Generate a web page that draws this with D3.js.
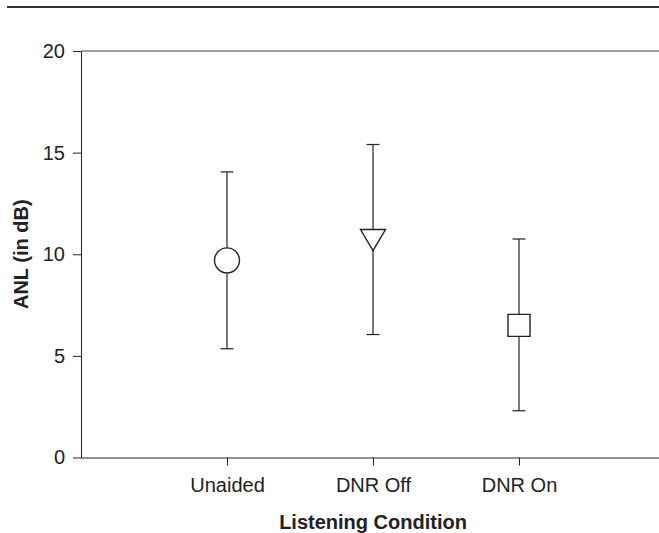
<!DOCTYPE html>
<html>
<head>
<meta charset="utf-8">
<script src="https://d3js.org/d3.v7.min.js"></script>
<style>
  body { margin: 0; background: #fff; }
  svg { display: block; }
</style>
</head>
<body>
<div id="chart"></div>
<script>
// data
var conditions = ["Unaided", "DNR Off", "DNR On"];
var means = [9.7, 10.7, 6.5];
var upper = [14.05, 15.4, 10.75];
var lower = [5.35, 6.05, 2.3];
var symbols = ["circle", "triangleDown", "square"];
var yTicks = [0, 5, 10, 15, 20];

var W = 659, H = 533;
var margin = { top: 51, left: 81 };
var plotH = 406.5;

var svg = d3.select("#chart")
    .append("svg")
    .attr("width", W)
    .attr("height", H)
    .attr("font-family", "Liberation Sans, Arial, sans-serif");

// thin rule at the top of the page
svg.append("line")
    .attr("x1", 7).attr("x2", W)
    .attr("y1", 7).attr("y2", 7)
    .attr("stroke", "#333")
    .attr("stroke-width", 2);

// x runs past the right edge of the window, like the original
var xScale = d3.scaleLinear()
    .domain([0, 4])
    .range([margin.left, margin.left + 4 * 146]);

var yScale = d3.scaleLinear()
    .domain([0, 20])
    .range([margin.top + plotH, margin.top]);

//Y-Axis
var yAxis = svg.append("g")
    .attr("transform", "translate(" + margin.left + ",0)")
    .call(d3.axisLeft(yScale).tickValues(yTicks).tickSize(8).tickSizeOuter(0).tickPadding(8));
yAxis.selectAll("text").attr("font-size", 20).attr("fill", "#222").attr("font-family", null);
yAxis.selectAll("line, path").attr("stroke", "#222");

//X-Axis
var xAxis = svg.append("g")
    .attr("transform", "translate(0," + yScale(0) + ")")
    .call(d3.axisBottom(xScale)
        .tickValues([1, 2, 3])
        .tickFormat(function(d) { return conditions[d - 1]; })
        .tickSize(8)
        .tickSizeOuter(0)
        .tickPadding(12));
xAxis.selectAll("text").attr("font-size", 20).attr("fill", "#222").attr("font-family", null);
xAxis.selectAll("line, path").attr("stroke", "#222");

// top frame line
svg.append("line")
    .attr("x1", margin.left).attr("x2", W)
    .attr("y1", yScale(20)).attr("y2", yScale(20))
    .attr("stroke", "#444")
    .attr("stroke-width", 1.2);

// axis titles
svg.append("text")
    .attr("x", xScale(2))
    .attr("y", 529)
    .attr("text-anchor", "middle")
    .attr("font-size", 20)
    .attr("font-weight", "bold")
    .attr("fill", "#222")
    .text("Listening Condition");

svg.append("text")
    .attr("transform", "translate(28," + yScale(10) + ") rotate(-90)")
    .attr("text-anchor", "middle")
    .attr("font-size", 20)
    .attr("font-weight", "bold")
    .attr("fill", "#222")
    .text("ANL (in dB)");

var data = conditions.map(function(c, i) {
    return { name: c, x: i + 1, mean: means[i], hi: upper[i], lo: lower[i], sym: symbols[i] };
});

// error bars
var bars = svg.append("g")
    .attr("stroke", "#222")
    .attr("stroke-width", 1.2)
    .selectAll("g")
    .data(data)
    .enter().append("g");

bars.append("line")
    .attr("x1", function(d) { return xScale(d.x); })
    .attr("x2", function(d) { return xScale(d.x); })
    .attr("y1", function(d) { return yScale(d.hi); })
    .attr("y2", function(d) { return yScale(d.lo); });

bars.selectAll(".cap")
    .data(function(d) { return [{ x: d.x, v: d.hi }, { x: d.x, v: d.lo }]; })
    .enter().append("line")
    .attr("class", "cap")
    .attr("x1", function(d) { return xScale(d.x) - 6.5; })
    .attr("x2", function(d) { return xScale(d.x) + 6.5; })
    .attr("y1", function(d) { return yScale(d.v); })
    .attr("y2", function(d) { return yScale(d.v); });

// markers
var markers = svg.append("g")
    .selectAll("path")
    .data(data)
    .enter().append("path")
    .attr("transform", function(d) {
        return "translate(" + xScale(d.x) + "," + yScale(d.mean) + ")";
    })
    .attr("d", function(d) {
        if (d.sym === "circle") {
            return d3.symbol().type(d3.symbolCircle).size(Math.PI * 12.5 * 12.5)();
        }
        if (d.sym === "square") {
            return "M-11,-11H11V11H-11Z";
        }
        // downward triangle, flat top
        return "M-12.5,-10.5H12.5L0,10.5Z";
    })
    .attr("fill", "#fff")
    .attr("stroke", "#222")
    .attr("stroke-width", 1.4);
</script>
</body>
</html>
